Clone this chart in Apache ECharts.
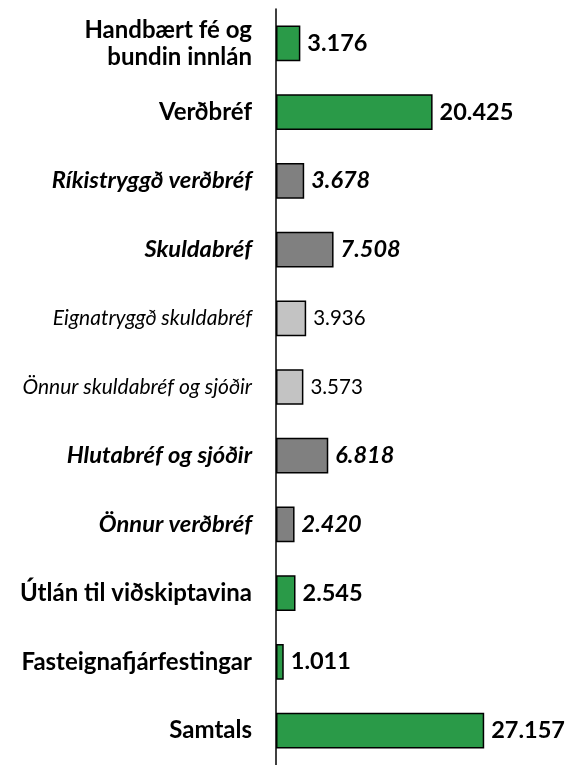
<!DOCTYPE html>
<html><head><meta charset="utf-8">
<script src="https://cdn.jsdelivr.net/npm/echarts@6/dist/echarts.min.js"></script>
<style>html,body{margin:0;padding:0;background:#fff}#c{width:570px;height:765px}</style>
</head><body><div id="c"></div>
<script>
const categories = ["Handbært fé og\nbundin innlán","Verðbréf","Ríkistryggð verðbréf","Skuldabréf","Eignatryggð skuldabréf","Önnur skuldabréf og sjóðir","Hlutabréf og sjóðir","Önnur verðbréf","Útlán til viðskiptavina","Fasteignafjárfestingar","Samtals"];
const values = [3176,20425,3678,7508,3936,3573,6818,2420,2545,1011,27157];
const levels = [0,0,1,1,2,2,1,1,0,0,0];

const FONT = 'Lato';
const colors = ['#2a9a48','#808080','#c3c3c3'];
const catStyles = {
  l0:{fontFamily:FONT,fontWeight:'bold',fontSize:24,color:'#000',lineHeight:27,align:'right'},
  l1:{fontFamily:FONT,fontWeight:'bold',fontStyle:'italic',fontSize:23.7,color:'#000',align:'right'},
  l2:{fontFamily:FONT,fontStyle:'italic',fontSize:21,color:'#000',align:'right'}
};
const valStyles = [
  {fontFamily:FONT,fontWeight:'bold',fontSize:23.5,color:'#000'},
  {fontFamily:FONT,fontWeight:'bold',fontStyle:'italic',fontSize:23.5,color:'#000'},
  {fontFamily:FONT,fontSize:20.5,color:'#000'}
];
function fmt(v){return String(v).replace(/\B(?=(\d{3})+(?!\d))/g,'.');}

const chart = echarts.init(document.getElementById('c'));
chart.setOption({
  animation:false,
  grid:{left:276,right:18,top:9,bottom:0,containLabel:false},
  xAxis:{type:'value',min:0,max:36000,show:false},
  yAxis:{type:'category',inverse:true,data:categories,
    axisLine:{lineStyle:{color:'#000',width:1.5}},
    axisTick:{show:false},
    axisLabel:{margin:24,interval:0,
      formatter:(v,i)=>v.split('\n').map(s=>'{l'+levels[i]+'|'+s+'}').join('\n'),
      rich:catStyles}
  },
  series:[{type:'bar',barCategoryGap:'48%',
    data:values.map((v,i)=>({value:v,
      itemStyle:{color:colors[levels[i]],borderColor:'#000',borderWidth:1.5},
      label:Object.assign({show:true,position:'right',distance:7,formatter:p=>fmt(p.value)},valStyles[levels[i]])
    }))
  }]
});
</script></body></html>
